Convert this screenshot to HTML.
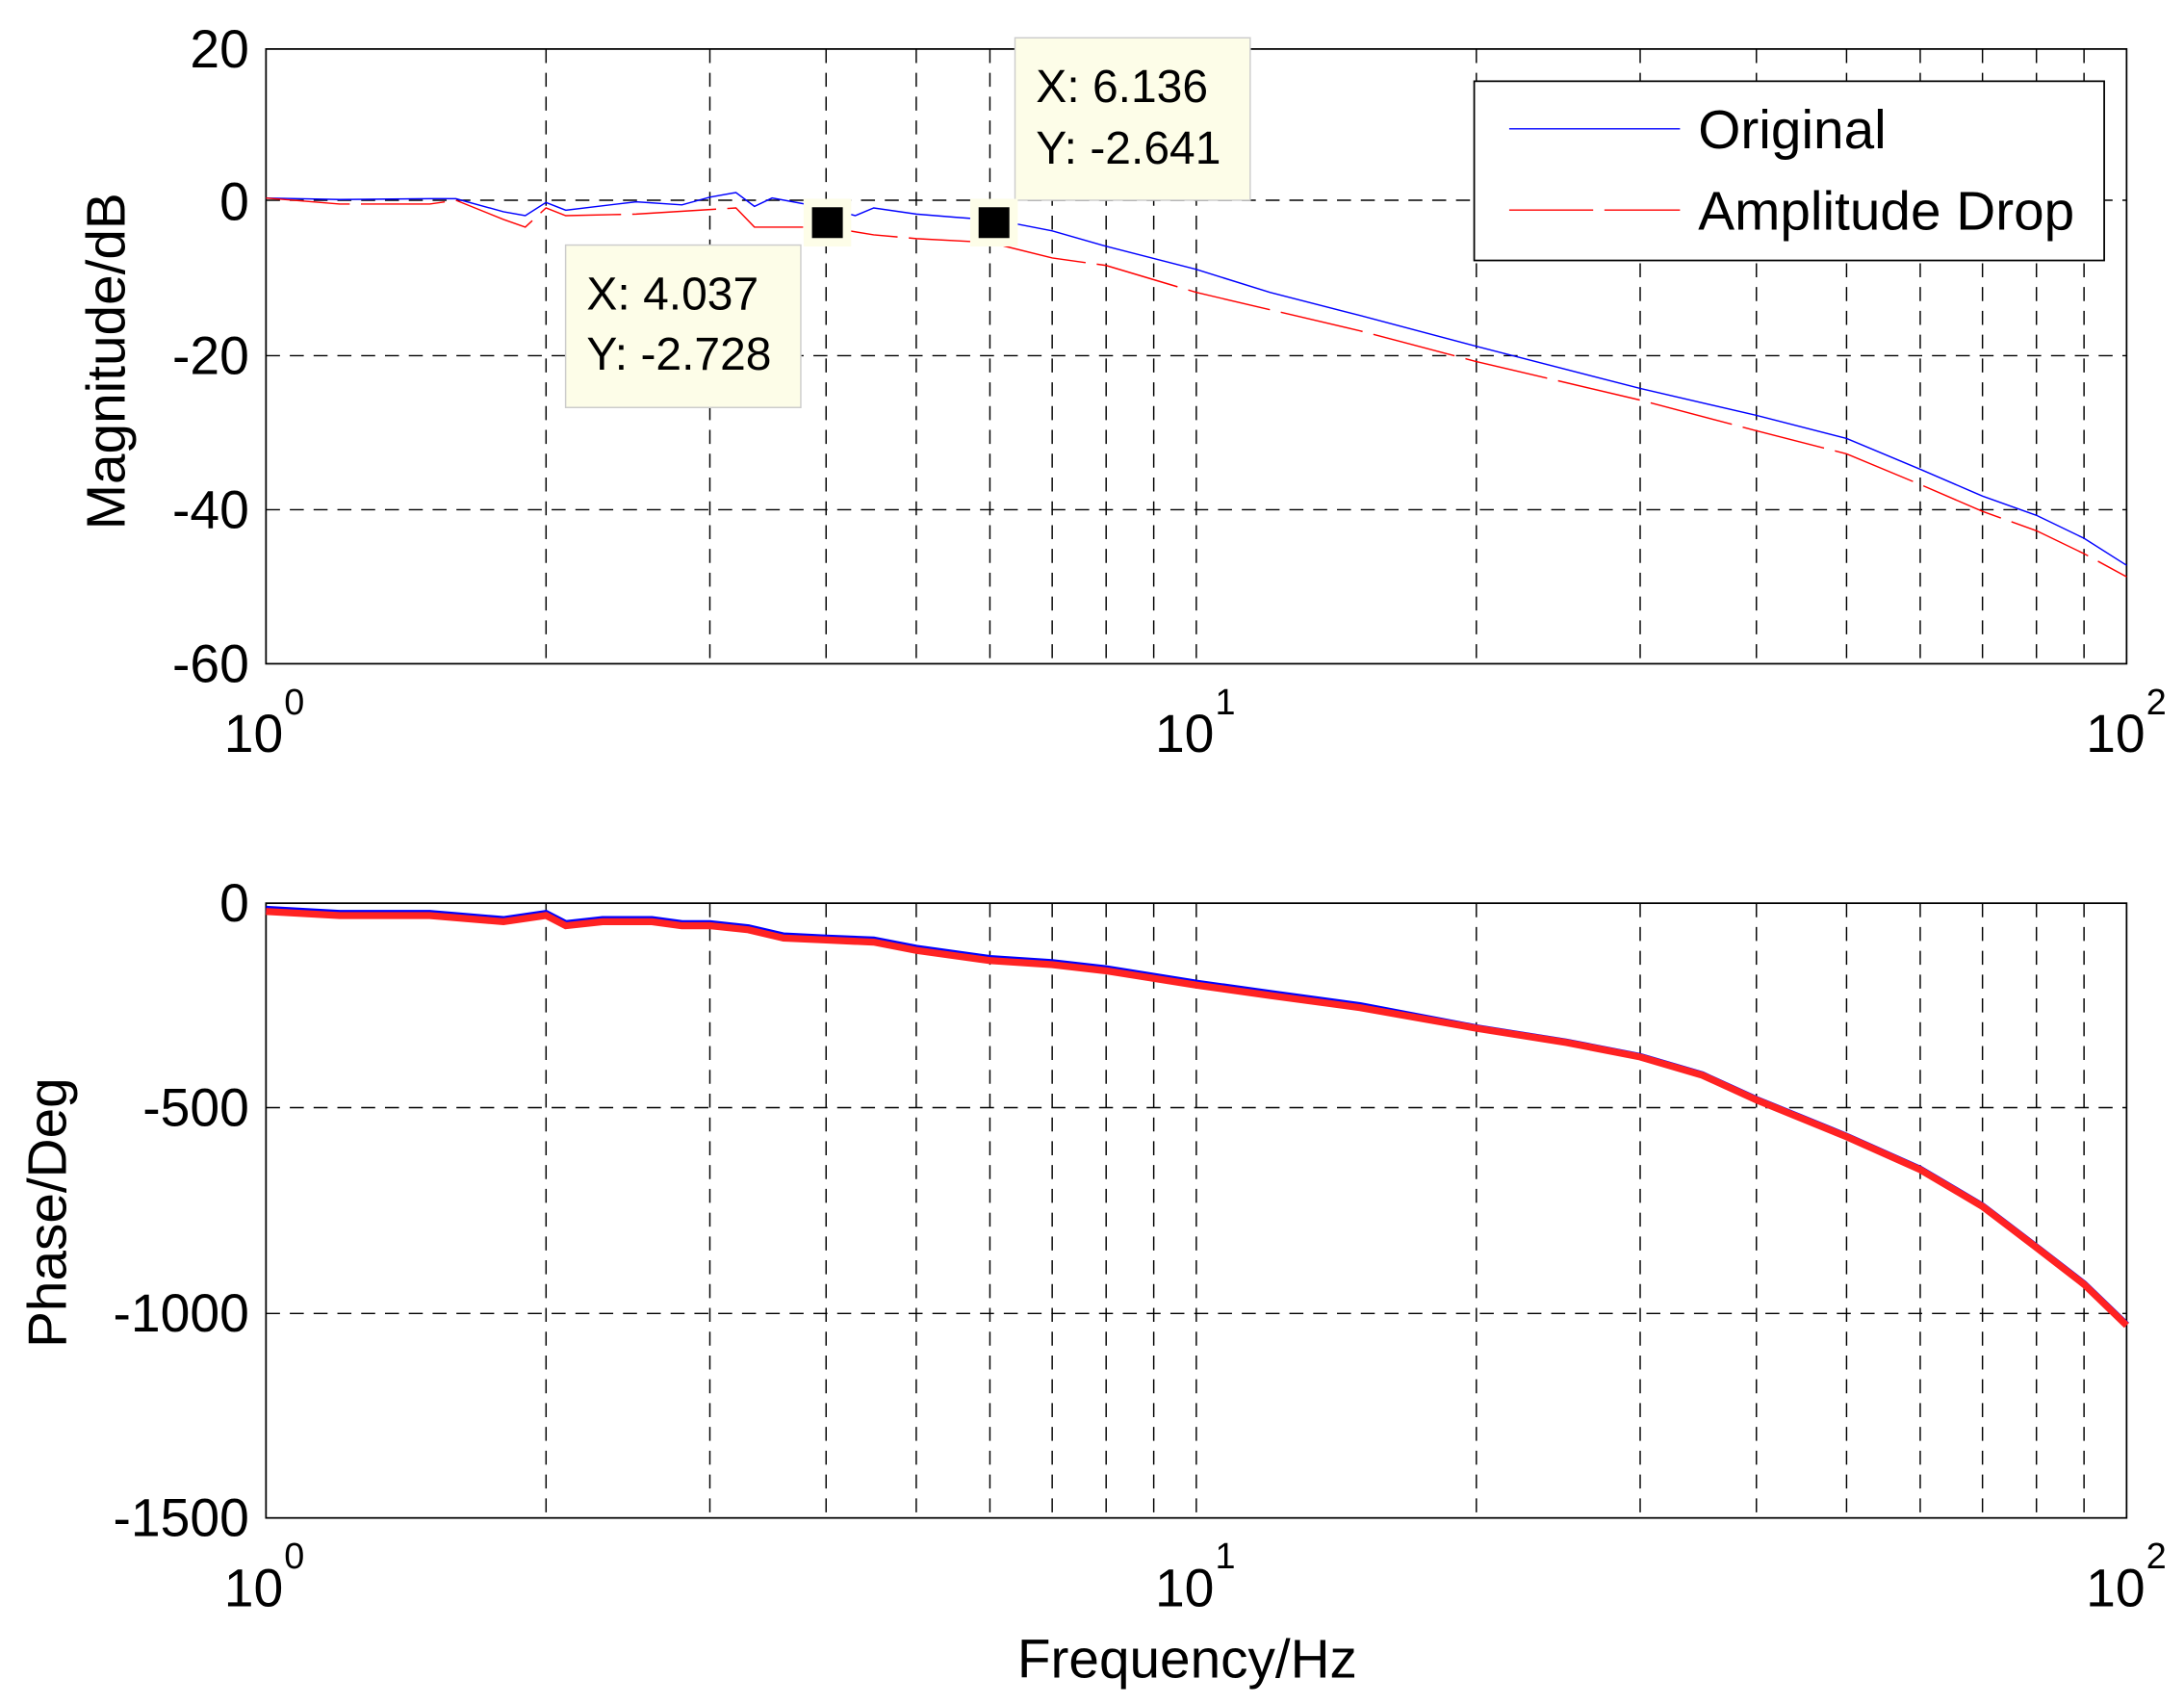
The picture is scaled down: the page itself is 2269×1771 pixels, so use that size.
<!DOCTYPE html>
<html><head><meta charset="utf-8"><style>
html,body{margin:0;padding:0;background:#fff;}
svg{display:block;}
text{font-family:"Liberation Sans",Arial,sans-serif;fill:#000;}
</style></head><body>
<svg id="s" width="2269" height="1771" viewBox="0 0 1560 1217.6" preserveAspectRatio="none" xmlns="http://www.w3.org/2000/svg">
<rect width="1560" height="1218" fill="#fff"/>
<g id="grid"></g>
<rect x="190" y="35" width="1329" height="439" fill="none" stroke="#000" stroke-width="1.2"/>
<rect x="190" y="645" width="1329" height="439" fill="none" stroke="#000" stroke-width="1.2"/>
<g id="series"></g>
<g font-size="38" text-anchor="end">
<text x="178" y="48">20</text><text x="178" y="157">0</text><text x="178" y="267">-20</text><text x="178" y="377">-40</text><text x="178" y="487">-60</text>
<text x="178" y="658">0</text><text x="178" y="804">-500</text><text x="178" y="951">-1000</text><text x="178" y="1097">-1500</text>
</g>
<g font-size="38">
<text x="160" y="537">10</text><text x="203" y="510" font-size="26">0</text>
<text x="825" y="537">10</text><text x="868" y="510" font-size="26">1</text>
<text x="1490" y="537">10</text><text x="1533" y="510" font-size="26">2</text>
<text x="160" y="1147">10</text><text x="203" y="1120" font-size="26">0</text>
<text x="825" y="1147">10</text><text x="868" y="1120" font-size="26">1</text>
<text x="1490" y="1147">10</text><text x="1533" y="1120" font-size="26">2</text>
</g>
<text x="848" y="1198" font-size="39" text-anchor="middle">Frequency/Hz</text>
<text transform="translate(89,258) rotate(-90)" font-size="39" text-anchor="middle">Magnitude/dB</text>
<text transform="translate(47,866) rotate(-90)" font-size="39" text-anchor="middle">Phase/Deg</text>
<rect x="1053" y="58" width="450" height="128" fill="#fff" stroke="#000" stroke-width="1.2"/>
<line x1="1078" y1="92" x2="1200" y2="92" stroke="#00f" stroke-width="1"/>
<line x1="1078" y1="150" x2="1200" y2="150" stroke="#f00" stroke-width="1" stroke-dasharray="60,8"/>
<text x="1213" y="106" font-size="39">Original</text>
<text x="1213" y="164" font-size="39">Amplitude Drop</text>
<rect x="725" y="27" width="168" height="116" fill="#fdfde8" stroke="#ccc" stroke-width="1"/>
<text x="740" y="73" font-size="33">X: 6.136</text><text x="740" y="117" font-size="33">Y: -2.641</text>
<rect x="404" y="175" width="168" height="116" fill="#fdfde8" stroke="#ccc" stroke-width="1"/>
<text x="419" y="221" font-size="33">X: 4.037</text><text x="419" y="264" font-size="33">Y: -2.728</text>
<rect x="574" y="142" width="34" height="34" fill="#fdfde8"/>
<rect x="580" y="148" width="22" height="22" fill="#000"/>
<rect x="693" y="142" width="34" height="34" fill="#fdfde8"/>
<rect x="699" y="148" width="22" height="22" fill="#000"/>
</svg>
<script>
var NS="http://www.w3.org/2000/svg";
function X(f){return 190+664.5*Math.log10(f);}
function el(p,t,a){var e=document.createElementNS(NS,t);for(var k in a)e.setAttribute(k,a[k]);p.appendChild(e);return e;}
var g=document.getElementById("grid");
var vs=[2,3,4,5,6,7,8,9,10,20,30,40,50,60,70,80,90];
[[35,474],[645,1084]].forEach(function(r){
 vs.forEach(function(v){var x=X(v);el(g,"line",{x1:x,y1:r[0],x2:x,y2:r[1],stroke:"#000","stroke-width":1,"stroke-dasharray":"10,7"});});
});
[143,254,364,791,938].forEach(function(y){el(g,"line",{x1:190,y1:y,x2:1519,y2:y,stroke:"#000","stroke-width":1,"stroke-dasharray":"10,7"});});
function YM(d){return 143-d*5.4875;}
function YP(d){return 645-d*0.2927;}
var orig=[[1,0.3],[1.2,0.1],[1.5,0.2],[1.6,0.2],[1.8,-1.5],[1.9,-2],[2,-0.3],[2.1,-1.3],[2.5,-0.2],[2.8,-0.6],[3,0.4],[3.2,1],[3.35,-0.8],[3.5,0.3],[4,-1],[4.3,-2],[4.5,-1],[5,-1.8],[5.5,-2.2],[6.136,-2.64],[7,-4],[8,-6],[10,-9],[12,-12],[15,-15],[20,-19],[30,-24.5],[40,-28],[50,-31],[60,-35],[70,-38.5],[80,-41],[90,-44],[100,-47.5]];
var drop=[[1,0.3],[1.2,-0.5],[1.5,-0.5],[1.6,0],[1.8,-2.5],[1.9,-3.5],[2,-1],[2.1,-2],[2.5,-1.8],[3.2,-1],[3.35,-3.5],[4,-3.5],[4.5,-4.5],[5,-5],[6,-5.5],[7,-7.5],[8,-8.5],[10,-12],[15,-17],[20,-21],[30,-26],[40,-30],[50,-33],[60,-37],[70,-40.5],[80,-43],[90,-46],[100,-49]];
var s=document.getElementById("series");
function pts(a,Y){return a.map(function(p){return X(p[0]).toFixed(1)+","+Y(p[1]).toFixed(1);}).join(" ");}
var ph=[[1,-20],[1.2,-30],[1.5,-30],[1.8,-45],[2,-30],[2.1,-55],[2.3,-45],[2.6,-45],[2.8,-55],[3,-55],[3.3,-65],[3.6,-85],[4,-90],[4.5,-95],[5,-115],[6,-140],[7,-150],[8,-165],[10,-200],[12,-225],[15,-255],[20,-305],[25,-340],[30,-375],[35,-420],[40,-480],[50,-570],[60,-650],[70,-740],[80,-840],[90,-930],[100,-1030]];
var phb=ph.map(function(p){return [p[0],p[0]<20?p[1]+5:p[1]+1];});
el(s,"polyline",{points:pts(phb,YP),fill:"none",stroke:"#00f","stroke-width":5});
el(s,"polyline",{points:pts(ph,YP),fill:"none",stroke:"#f22","stroke-width":5});
el(s,"polyline",{points:pts(orig,YM),fill:"none",stroke:"#00f","stroke-width":1});
el(s,"polyline",{points:pts(drop,YM),fill:"none",stroke:"#f00","stroke-width":1,"stroke-dasharray":"60,8"});
</script>
</body></html>
